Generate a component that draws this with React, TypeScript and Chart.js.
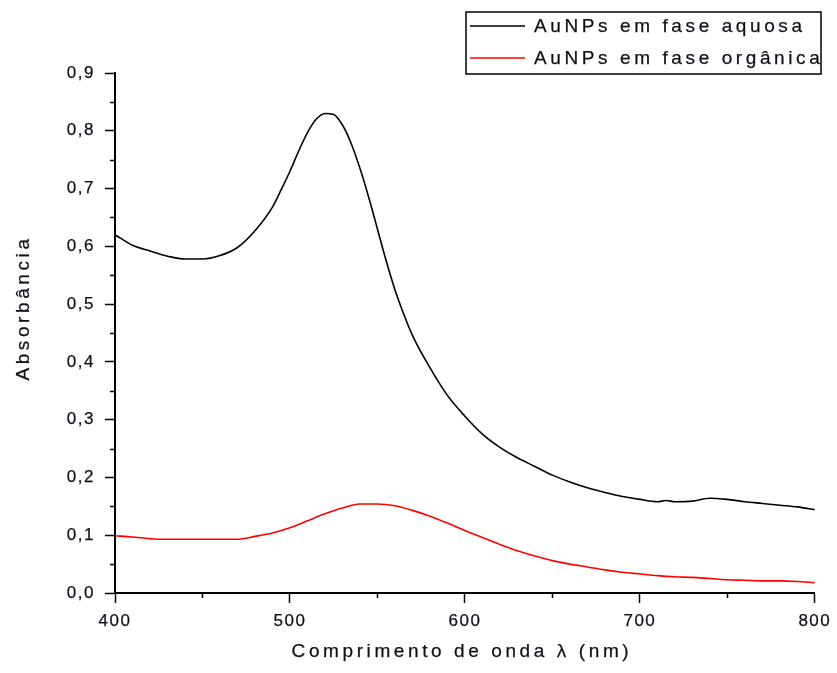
import React, { useEffect, useRef } from 'react';
import { Chart, registerables } from 'chart.js';

Chart.register(...registerables);

// Absorption spectra of gold nanoparticles (wavelength in nm, absorbance)
const WAVELENGTHS_AQUOSA = [
  400, 410, 420, 430, 440, 450, 460, 470, 480, 490, 495, 500, 505, 510, 515, 520,
  525, 530, 535, 540, 545, 550, 555, 560, 565, 570, 580, 590, 600, 610, 620, 630,
  640, 650, 660, 670, 680, 690, 700, 710, 715, 720, 730, 740, 750, 760, 770, 780,
  790, 800,
];
const ABS_AQUOSA = [
  0.620, 0.602, 0.592, 0.583, 0.578, 0.578, 0.584, 0.598, 0.627, 0.668, 0.698, 0.730,
  0.765, 0.797, 0.820, 0.830, 0.828, 0.810, 0.778, 0.735, 0.685, 0.630, 0.575, 0.525,
  0.483, 0.446, 0.390, 0.342, 0.306, 0.275, 0.252, 0.234, 0.219, 0.204, 0.192, 0.182,
  0.174, 0.167, 0.162, 0.158, 0.160, 0.158, 0.159, 0.164, 0.162, 0.158, 0.155, 0.152,
  0.149, 0.144,
];

const WAVELENGTHS_ORGANICA = [
  400, 410, 420, 430, 440, 450, 460, 470, 480, 490, 500, 510, 520, 530, 540, 550,
  560, 570, 580, 590, 600, 610, 620, 630, 640, 650, 660, 670, 680, 690, 700, 710,
  720, 730, 740, 750, 760, 770, 780, 790, 800,
];
const ABS_ORGANICA = [
  0.099, 0.097, 0.094, 0.093, 0.093, 0.093, 0.093, 0.093, 0.098, 0.104, 0.113, 0.125,
  0.137, 0.147, 0.154, 0.154, 0.151, 0.143, 0.133, 0.121, 0.108, 0.096, 0.084, 0.073,
  0.064, 0.056, 0.050, 0.045, 0.040, 0.036, 0.033, 0.030, 0.028, 0.027, 0.025, 0.023,
  0.022, 0.021, 0.021, 0.020, 0.018,
];

const SERIES_LABELS = ['AuNPs em fase aquosa', 'AuNPs em fase orgânica'];
const SERIES_COLORS = ['#000000', '#ff0000'];

const X_TITLE = 'Comprimento de onda λ (nm)';
const Y_TITLE = 'Absorbância';

const X_MINOR_TICKS = [450, 550, 650, 750];
const Y_MINOR_TICKS = [0.05, 0.15, 0.25, 0.35, 0.45, 0.55, 0.65, 0.75, 0.85];

const FONT = "Arial, 'Liberation Sans', sans-serif";
const TEXT_COLOR = '#10101c';

const toPoints = (xs: number[], ys: number[]) => xs.map((x, i) => ({ x, y: ys[i] }));

// Tick labels in this style use a little extra letter spacing.
const spacingPlugin = {
  id: 'tickSpacing',
  beforeDraw(chart: any) {
    chart.ctx.letterSpacing = '1.5px';
  },
  afterDraw(chart: any) {
    chart.ctx.letterSpacing = '0px';
  },
};

// Short outward minor ticks between the labelled ones.
const minorTicksPlugin = {
  id: 'minorTicks',
  afterDraw(chart: any) {
    const { ctx, chartArea, scales } = chart;
    ctx.save();
    ctx.strokeStyle = '#000';
    ctx.lineWidth = 1.5;
    ctx.beginPath();
    X_MINOR_TICKS.forEach((v) => {
      const px = Math.round(scales.x.getPixelForValue(v)) + 0.5;
      ctx.moveTo(px, chartArea.bottom);
      ctx.lineTo(px, chartArea.bottom + 5);
    });
    Y_MINOR_TICKS.forEach((v) => {
      const py = Math.round(scales.y.getPixelForValue(v)) + 0.5;
      ctx.moveTo(chartArea.left - 5, py);
      ctx.lineTo(chartArea.left, py);
    });
    ctx.stroke();
    ctx.restore();
  },
};

// Filled text with a hairline outline so the glyphs read a bit heavier.
const heavyText = (ctx: CanvasRenderingContext2D, text: string, x: number, y: number) => {
  ctx.fillText(text, x, y);
  ctx.strokeText(text, x, y);
};

// Axis titles and the framed legend in the top-right corner.
const annotationsPlugin = {
  id: 'annotations',
  afterDraw(chart: any) {
    const { ctx, chartArea } = chart;
    ctx.save();
    ctx.letterSpacing = '3.6px';
    ctx.fillStyle = TEXT_COLOR;
    ctx.font = `19px ${FONT}`;
    ctx.textBaseline = 'middle';

    const setTextStroke = () => {
      ctx.strokeStyle = TEXT_COLOR;
      ctx.lineWidth = 0.25;
    };

    // x title
    setTextStroke();
    ctx.textAlign = 'center';
    heavyText(ctx, X_TITLE, (chartArea.left + chartArea.right) / 2 - 3, 652);

    // y title
    ctx.save();
    ctx.translate(24, 308);
    ctx.rotate(-Math.PI / 2);
    ctx.textAlign = 'center';
    heavyText(ctx, Y_TITLE, 0, 0);
    ctx.restore();

    // legend
    const box = { x: 466, y: 12, w: 355, h: 62 };
    ctx.strokeStyle = '#000';
    ctx.lineWidth = 1.5;
    ctx.strokeRect(box.x, box.y, box.w, box.h);
    const rows = [26, 58];
    SERIES_LABELS.forEach((label, i) => {
      ctx.strokeStyle = SERIES_COLORS[i];
      ctx.lineWidth = 1.5;
      ctx.beginPath();
      ctx.moveTo(470, rows[i]);
      ctx.lineTo(525, rows[i]);
      ctx.stroke();
      ctx.fillStyle = TEXT_COLOR;
      ctx.textAlign = 'left';
      setTextStroke();
      heavyText(ctx, label, 534, rows[i] + 1);
    });
    ctx.restore();
  },
};

export default function App() {
  const canvasRef = useRef<HTMLCanvasElement | null>(null);

  useEffect(() => {
    const canvas = canvasRef.current;
    if (!canvas) return;
    const chart = new Chart(canvas, {
      type: 'line',
      data: {
        datasets: [
          {
            label: SERIES_LABELS[0],
            data: toPoints(WAVELENGTHS_AQUOSA, ABS_AQUOSA),
            borderColor: SERIES_COLORS[0],
            borderWidth: 1.6,
            pointRadius: 0,
            cubicInterpolationMode: 'monotone',
            fill: false,
          },
          {
            label: SERIES_LABELS[1],
            data: toPoints(WAVELENGTHS_ORGANICA, ABS_ORGANICA),
            borderColor: SERIES_COLORS[1],
            borderWidth: 1.6,
            pointRadius: 0,
            cubicInterpolationMode: 'monotone',
            fill: false,
          },
        ],
      },
      options: {
        responsive: false,
        animation: false,
        layout: { padding: { left: 0, top: 73, right: 20, bottom: 0 } },
        plugins: {
          legend: { display: false },
          tooltip: { enabled: false },
        },
        scales: {
          x: {
            type: 'linear',
            min: 400,
            max: 800,
            afterFit: (scale: any) => {
              scale.height = 80;
            },
            ticks: {
              stepSize: 100,
              color: TEXT_COLOR,
              textStrokeColor: TEXT_COLOR,
              textStrokeWidth: 0.25,
              font: { family: FONT, size: 17 },
              padding: 8,
              maxRotation: 0,
            },
            grid: {
              drawOnChartArea: false,
              drawTicks: true,
              tickLength: 10,
              tickWidth: 1.5,
              tickColor: '#000',
            },
            border: { display: true, color: '#000', width: 2 },
          },
          y: {
            min: 0,
            max: 0.9,
            afterFit: (scale: any) => {
              scale.width = 115;
            },
            ticks: {
              stepSize: 0.1,
              color: TEXT_COLOR,
              textStrokeColor: TEXT_COLOR,
              textStrokeWidth: 0.25,
              font: { family: FONT, size: 17 },
              padding: 10,
              callback: (v: any) => Number(v).toFixed(1).replace('.', ','),
            },
            grid: {
              drawOnChartArea: false,
              drawTicks: true,
              tickLength: 10,
              tickWidth: 1.5,
              tickColor: '#000',
            },
            border: { display: true, color: '#000', width: 2 },
          },
        },
      },
      plugins: [spacingPlugin, minorTicksPlugin, annotationsPlugin],
    } as any);
    return () => chart.destroy();
  }, []);

  return (
    <div style={{ position: 'fixed', left: 0, top: 0, width: 837, height: 673, background: '#fff' }}>
      <canvas ref={canvasRef} width={837} height={673} />
    </div>
  );
}
